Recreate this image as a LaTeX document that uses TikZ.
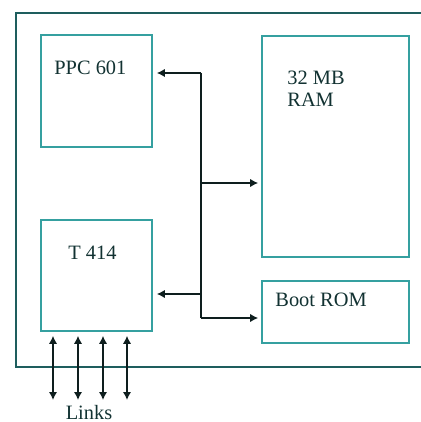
\documentclass[tikz,border=0pt]{standalone}
\usepackage{fontspec}
\setmainfont{Liberation Serif}
\usetikzlibrary{arrows.meta,positioning,calc}
\definecolor{paper}{HTML}{FFFFFF}
\definecolor{frame}{HTML}{1E5E5E}
\definecolor{board}{HTML}{35A0A0}
\definecolor{ink}{HTML}{123232}
\definecolor{wire}{HTML}{0E1E1E}
\newcommand{\BusX}{201}
\newcommand{\BoxL}{41}
\newcommand{\MemX}{335.5}

\begin{document}
\begin{tikzpicture}[
    x=0.5pt, y=-0.5pt,
    font=\fontsize{10.2}{11}\selectfont, ink,
    chip/.style={draw=board, line width=0.8pt, fill=paper, inner sep=0pt},
    edge/.style={-{Latex[length=4pt,width=4.2pt]}, line width=0.9pt, draw=wire},
    link/.style={{Latex[length=4pt,width=4.2pt]}-{Latex[length=4pt,width=4.2pt]}, line width=0.9pt, draw=wire},
    caption/.style={text=ink, inner sep=0pt},
  ]
\useasboundingbox (0,0) rectangle (421,422);

% --- The board, open to the right ---------------------------------------------
\coordinate (frameTR) at (421,13);
\coordinate (frameBL) at (16,367);
\draw[draw=frame, line width=1pt] (frameTR) -- (frameTR -| frameBL) -- (frameBL) -- (frameBL -| frameTR);

% --- The chips ----------------------------------------------------------------
\node[chip, minimum width=55.5pt, minimum height=56pt] (ppc) at (96.5, 91) {};
\node[chip, minimum width=55.5pt, minimum height=55.5pt] (t414) at (96.5, 275.5) {};
\node[chip, minimum width=73.5pt, minimum height=110.5pt] (ram) at (\MemX, 146.5) {};
\node[chip, minimum width=73.5pt, minimum height=31pt] (rom) at (\MemX, 312) {};

\node[caption, anchor=west] (ppcText) at (54, 68) {PPC 601};
\node[caption, anchor=west] (t414Text) at (68, 253) {T 414};
\node[caption, anchor=north west, align=left] (ramText) at (287, 71) {32 MB\\RAM};
\node[caption, anchor=west] (romText) at (275, 300) {Boot ROM};

% --- The bus ------------------------------------------------------------------
\coordinate (busTop) at (\BusX, 73);
\coordinate (busRam) at (\BusX, 183);
\coordinate (busT) at (\BusX, 294);
\coordinate (busBot) at (\BusX, 318);
\draw[line width=0.9pt, draw=wire] (busTop) -- (busBot);
\draw[edge, shorten >=2pt] (busTop) -- (busTop -| ppc.east);
\draw[edge, shorten >=1.5pt] (busRam) -- (busRam -| ram.west);
\draw[edge, shorten >=2pt] (busT) -- (busT -| t414.east);
\draw[edge, shorten >=1.5pt] (busBot) -- (busBot -| rom.west);

% --- The links ----------------------------------------------------------------
\foreach \i/\x in {1/53, 2/78, 3/103, 4/127} {
  \coordinate (l\i) at (\x, 400);
  \draw[link, shorten <=2pt] (l\i |- t414.south) -- (l\i);
}
\node[caption] (links) at (89, 413) {Links};

\end{tikzpicture}
\end{document}
